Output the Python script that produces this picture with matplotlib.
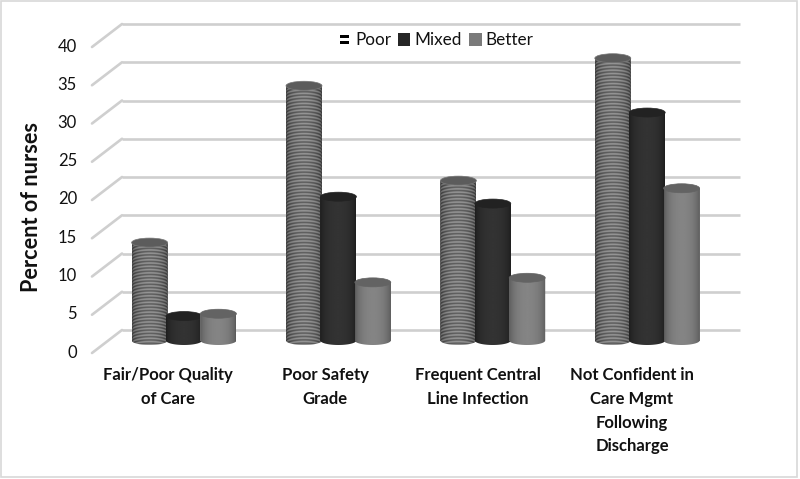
import numpy as np
import matplotlib
matplotlib.use("Agg")
import matplotlib.pyplot as plt
from matplotlib.patches import Ellipse, Rectangle, Patch
from matplotlib.path import Path
from matplotlib.legend_handler import HandlerBase
from matplotlib.transforms import offset_copy

categories = ["Fair/Poor Quality\nof Care", "Poor Safety\nGrade",
              "Frequent Central\nLine Infection",
              "Not Confident in\nCare Mgmt\nFollowing\nDischarge"]
series_names = ["Poor", "Mixed", "Better"]
poor = [12.8, 33.3, 20.9, 36.9]
mixed = [3.2, 18.8, 17.9, 29.8]
better = [3.5, 7.6, 8.2, 19.9]
y_ticks = [0, 5, 10, 15, 20, 25, 30, 35, 40]

plt.rcParams["font.family"] = ["Lato", "DejaVu Sans"]
W, H = 800, 479
X0, XS = 184.0, 154.4      # pixels: first group centre, pixels per category
Y0, YS = 340.5, 7.65       # pixels: baseline, pixels per percent
BAR_STEP, BAR_W, ELL_H = 34.4, 36.0, 9.0

fig = plt.figure(figsize=(8, 4.79), dpi=100)
ax = fig.add_axes([0, 0, 1, 1])
ax.set_xlim(-X0 / XS, (W - X0) / XS)
ax.set_ylim(-(H - Y0) / YS, Y0 / YS)
ax.axis("off")
dx = lambda px: px / XS
dy = lambda px: px / YS

# outer frame
ax.add_patch(Rectangle((0.0015, 0.004), 0.995, 0.993, transform=ax.transAxes,
                       fill=False, ec="#d8d8d8", lw=1.2, zorder=1))

# back-wall gridlines and floor/side diagonals
GRID = "#cfcfcf"
back = offset_copy(ax.transData, fig, x=0, y=10.5, units="dots")
x_back0, x_back1 = dx(122 - X0), dx(740 - X0)
x_front = dx(92 - X0)
for v in y_ticks:
    ax.plot([x_back0, x_back1], [v, v], color=GRID, lw=1.9, transform=back,
            zorder=2, solid_capstyle="butt")
    ax.plot([x_front, x_back0], [v + dy(-12.5), v + dy(10.5)], color=GRID, lw=1.9,
            zorder=2, solid_capstyle="round")

# shading across a bar: edge level, centre level
def shade(n, edge, mid):
    t = np.linspace(-1, 1, n)
    return edge + (mid - edge) * (1 - t ** 2) ** 0.6

def draw_cylinder(cx, v, style, z):
    half = dx(BAR_W / 2)
    e = dy(ELL_H / 2)
    bar = ax.bar(cx, v, width=dx(BAR_W), color=style["mean"], zorder=z)[0]
    theta = np.linspace(np.pi, 2 * np.pi, 40)
    pts = [(cx - half, v)] + list(zip(cx + half * np.cos(theta), e * np.sin(theta))) + [(cx + half, v)]
    clip = Path(pts + [pts[0]], closed=True)
    rows = int(round((v * YS + ELL_H) * 3))
    cols = 72
    base = shade(cols, style["edge"], style["mid"])
    img = np.tile(base, (rows, 1))
    if style["stripes"]:
        yy = np.arange(rows)[:, None] / 3.0
        t = np.linspace(-1, 1, cols)
        curve = (1 - np.sqrt(np.maximum(1 - t ** 2, 0))) * ELL_H / 2
        img = img + 0.14 * np.cos(2 * np.pi * (yy + curve[None, :]) / 3.4)
    im = ax.imshow(img, extent=(cx - half, cx + half, -e, v), origin="lower",
                   cmap="gray", vmin=0, vmax=1, aspect="auto", zorder=z + 0.1,
                   interpolation="bilinear")
    im.set_clip_path(clip, ax.transData)
    ax.add_patch(Ellipse((cx, v), dx(BAR_W), dy(ELL_H), fc=style["top"],
                         ec=style["top_edge"], lw=0.5, zorder=z + 0.2))

styles = [
    dict(mean="#6f6f6f", edge=0.27, mid=0.48, stripes=True, top="#5c5c5c", top_edge="#777777"),
    dict(mean="#2a2a2a", edge=0.11, mid=0.20, stripes=False, top="#222222", top_edge="#222222"),
    dict(mean="#7a7a7a", edge=0.34, mid=0.52, stripes=False, top="#636363", top_edge="#636363"),
]
for j, (vals, st) in enumerate(zip([poor, mixed, better], styles)):
    for i, v in enumerate(vals):
        draw_cylinder(i + dx(BAR_STEP) * (j - 1), v, st, 5 + j * 0.5)
ax.set_xlim(-X0 / XS, (W - X0) / XS)
ax.set_ylim(-(H - Y0) / YS, Y0 / YS)

# value labels on the front plane
for v in y_ticks:
    ax.annotate(str(v), xy=(dx(77 - X0), v), xytext=(0, -12 * 0.72),
                textcoords="offset points", ha="right", va="center",
                fontsize=12, color="#111111")

ax.text(dx(32 - X0), dy(Y0 - 207.5), "Percent of nurses", rotation=90, ha="center",
        va="center", fontsize=15.6, fontweight="bold", color="#111111")

label_x = [168, 325, 478, 632]
for lx, c in zip(label_x, categories):
    ax.text(dx(lx - X0), dy(Y0 - 367), c, ha="center", va="top", fontsize=12,
            fontweight="bold", color="#111111", linespacing=1.6)

# legend
class TwoBars(HandlerBase):
    def create_artists(self, legend, orig, xd, yd, width, height, fontsize, trans):
        w = width * 0.72
        x = (width - w) / 2 - xd
        return [Rectangle((x, -yd + height * 0.56), w, height * 0.26, fc="black", ec="none", transform=trans),
                Rectangle((x, -yd + height * 0.12), w, height * 0.26, fc="black", ec="none", transform=trans)]

handles = [Patch(fc="black", label=series_names[0]),
           Patch(fc="#262626", label=series_names[1]),
           Patch(fc="#7a7a7a", label=series_names[2])]
leg = ax.legend(handles=handles, handler_map={handles[0]: TwoBars()}, ncol=3,
                loc="center", bbox_to_anchor=(436 / W, 1 - 40 / H),
                frameon=False, fontsize=12.3, handlelength=0.72, handleheight=0.8,
                handletextpad=0.25, columnspacing=0.42, labelcolor="#111111")
leg.set_zorder(20)

fig.savefig("out.png", dpi=100)
